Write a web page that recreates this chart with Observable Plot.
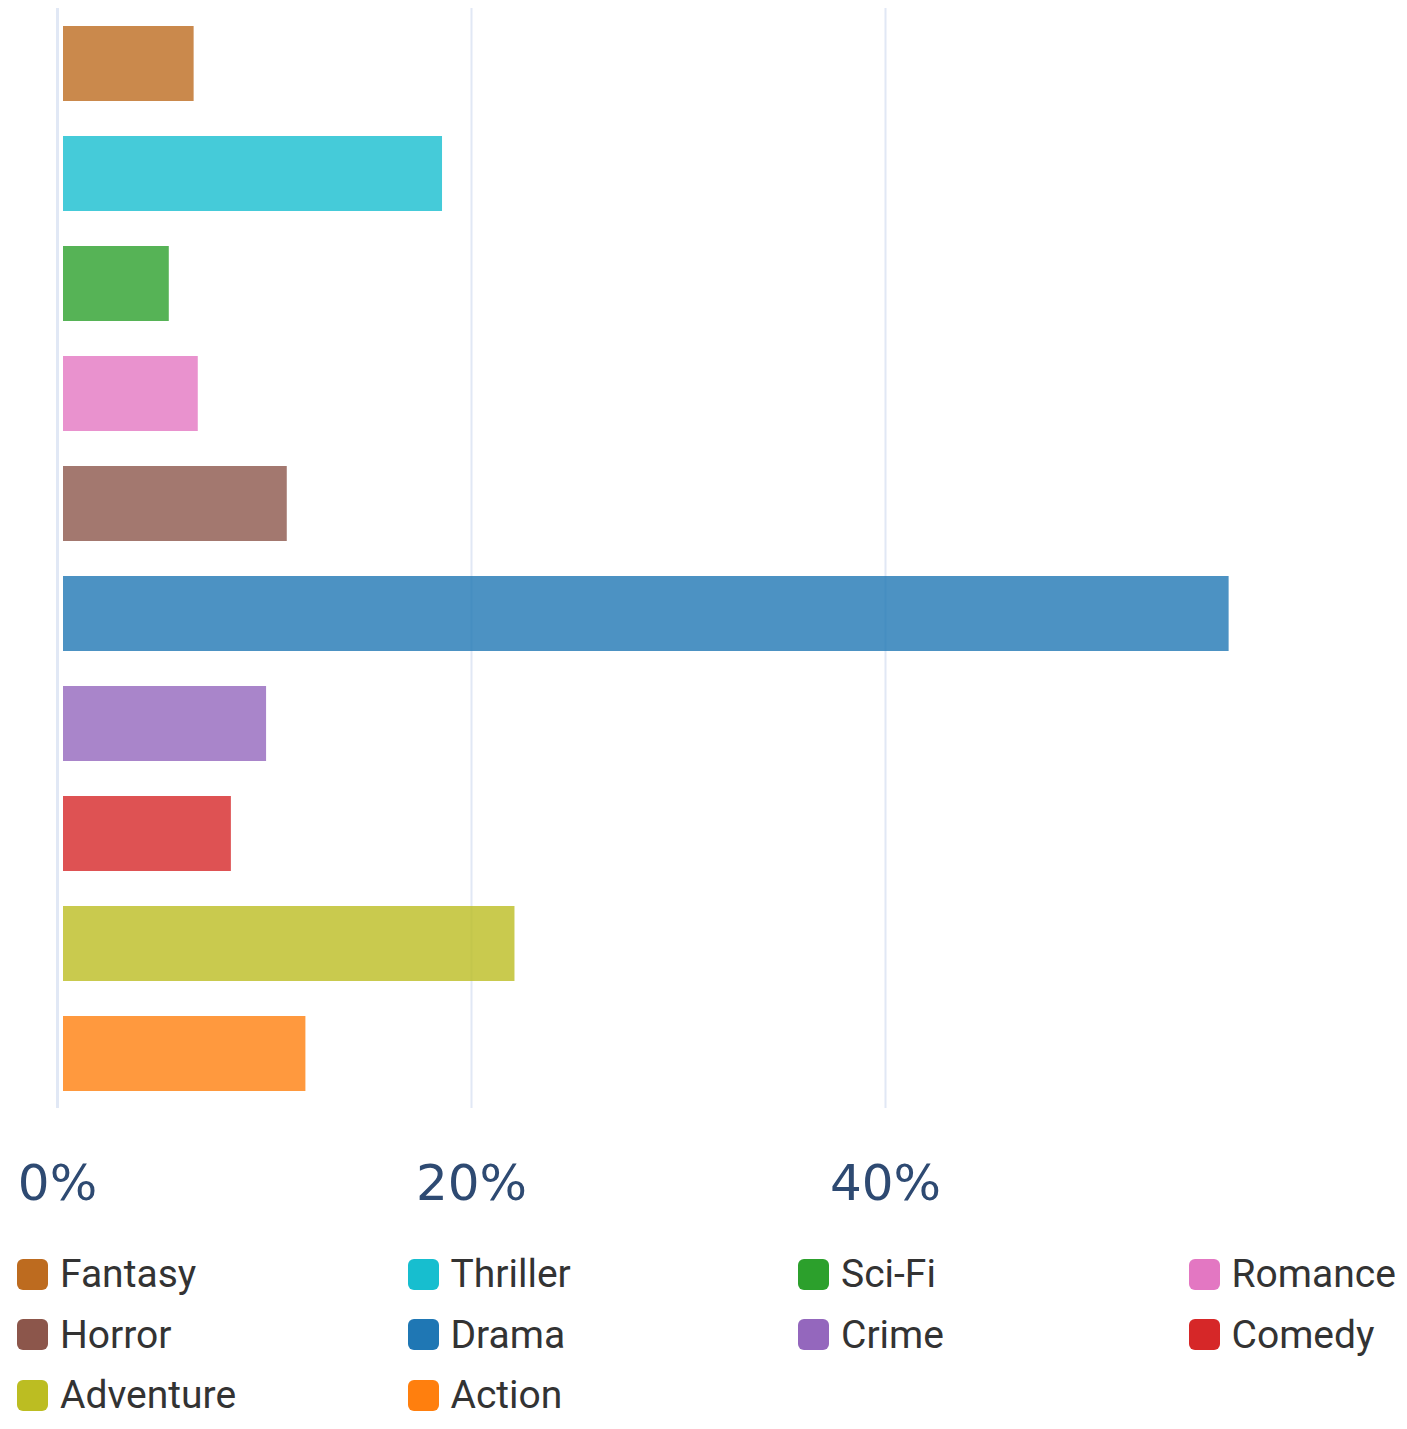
<!DOCTYPE html>
<html>
<head>
<meta charset="utf-8">
<script src="https://cdn.jsdelivr.net/npm/d3@7"></script>
<script src="https://cdn.jsdelivr.net/npm/@observablehq/plot@0.6"></script>
<style>
  html, body { margin: 0; padding: 0; background: #fff; }
  #chart svg { display: block; }
  .legend { display: grid; grid-template-columns: repeat(4, 390.5px); grid-auto-rows: 60.5px;
            padding: 24px 0 0 17px; font-family: Roboto, sans-serif; font-size: 39px; color: #333; }
  .item { display: flex; align-items: center; white-space: nowrap; }
  .sw { width: 31px; height: 31px; border-radius: 6px; margin-right: 12px; flex: none; }
</style>
</head>
<body>
<div id="chart"></div>
<div class="legend" id="legend"></div>
<script>
const genres = ["Fantasy","Thriller","Sci-Fi","Romance","Horror","Drama","Crime","Comedy","Adventure","Action"];
const shares = [6.6, 18.6, 5.4, 6.8, 11.1, 56.6, 10.1, 8.4, 22.1, 12.0];
const colors = ["#bd6b1f","#17becf","#2ca02c","#e377c2","#8c564b","#1f77b4","#9467bd","#d62728","#bcbd22","#ff7f0e"];
const xTicks = [0, 20, 40];

const data = genres.map((g, i) => ({genre: g, share: shares[i]}));

const chart = Plot.plot({
  width: 1407,
  height: 1220,
  marginTop: 8,
  marginBottom: 112,
  marginLeft: 57,
  marginRight: 4.5,
  style: {fontFamily: "'DejaVu Sans', sans-serif", background: "#fff"},
  x: {domain: [0, 65], range: [57, 1402.5]},
  y: {domain: genres, range: [9, 1109], paddingInner: 0.318, paddingOuter: 0.159, axis: null},
  color: {domain: genres, range: colors},
  marks: [
    Plot.ruleX(xTicks.filter(d => d !== 0), {stroke: "#e1e8f5", strokeWidth: 2}),
    Plot.ruleX([0], {stroke: "#e1e8f5", strokeWidth: 3}),
    Plot.barX(data, {y: "genre", x: "share", fill: "genre", fillOpacity: 0.8, insetLeft: 6}),
    Plot.axisX({ticks: xTicks, tickFormat: d => d + "%", tickSize: 0, tickPadding: 56,
                fontSize: 50, fill: "#2e4a72", label: null})
  ]
});
document.getElementById("chart").appendChild(chart);

const legend = document.getElementById("legend");
genres.forEach((g, i) => {
  const item = document.createElement("div");
  item.className = "item";
  const sw = document.createElement("span");
  sw.className = "sw";
  sw.style.background = colors[i];
  const label = document.createElement("span");
  label.textContent = g;
  item.appendChild(sw);
  item.appendChild(label);
  legend.appendChild(item);
});
</script>
</body>
</html>
